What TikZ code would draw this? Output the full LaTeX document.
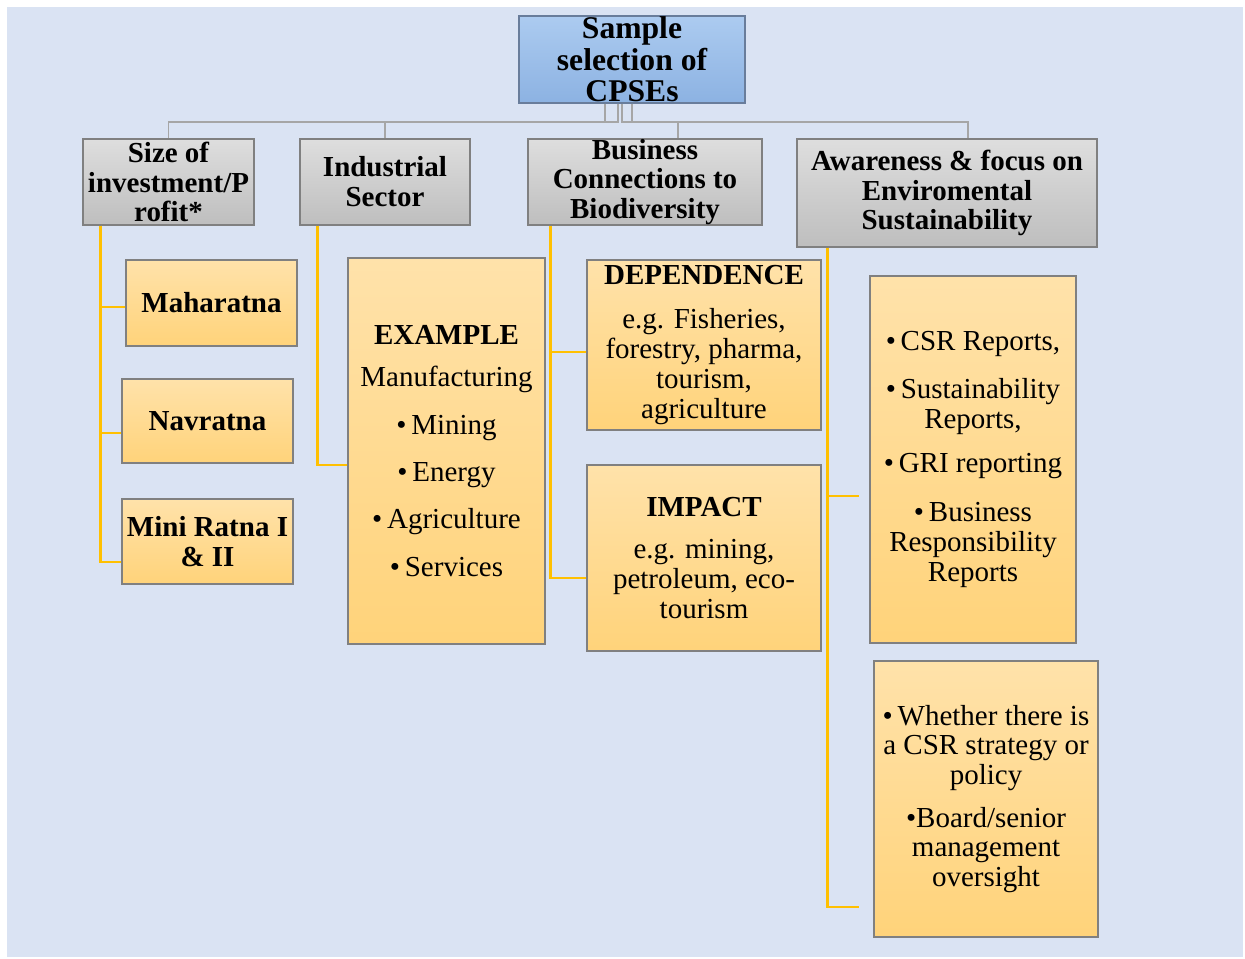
\documentclass[tikz,border=0pt]{standalone}
\usepackage{fontspec}
\setmainfont{Liberation Serif}
\usepackage{xcolor}
\usetikzlibrary{calc,positioning,shapes}

\definecolor{bgblue}{RGB}{218,227,243}
\definecolor{roottop}{RGB}{172,203,240}
\definecolor{rootbot}{RGB}{140,178,226}
\definecolor{rootline}{RGB}{105,125,155}
\definecolor{graytop}{RGB}{222,222,222}
\definecolor{graybot}{RGB}{190,190,190}
\definecolor{boxline}{RGB}{128,128,128}
\definecolor{orangetop}{RGB}{255,226,170}
\definecolor{orangebot}{RGB}{255,211,122}
\definecolor{treegray}{RGB}{166,166,166}
\definecolor{linkgold}{RGB}{255,192,0}

\tikzset{
  rootbox/.style={draw=rootline, line width=0.8pt, top color=roottop, bottom color=rootbot,
    inner sep=0pt, inner ysep=-6pt, minimum width=4.52cm, minimum height=1.74cm,
    align=center, font=\fontsize{18}{18}\selectfont\bfseries},
  catbox/.style={draw=boxline, line width=0.8pt, top color=graytop, bottom color=graybot,
    inner sep=0pt, align=center, font=\fontsize{16.5}{17}\selectfont\bfseries},
  itembox/.style={draw=boxline, line width=0.8pt, top color=orangetop, bottom color=orangebot,
    inner sep=0pt, align=center, font=\fontsize{16.5}{17}\selectfont},
  tree/.style={draw=treegray, line width=1.1pt},
  link/.style={draw=linkgold, line width=1.6pt},
}

\begin{document}
\begin{tikzpicture}[x=0.02cm, y=-0.02cm]
      \useasboundingbox (0,0) rectangle (1245,958);
      \fill[white] (0,0) rectangle (1245,958);
      \fill[bgblue] (7,7) rectangle (1243,957);

      \node[rootbox] (root) at (632,59.5) {Sample\\selection of\\CPSEs};

          \node[catbox, minimum width=3.42cm, minimum height=1.72cm] (size) at (168.5,182)
              {Size of\\investment/P\\rofit*};
          \node[catbox, minimum width=3.40cm, minimum height=1.72cm] (sector) at (385,182)
              {Industrial\\Sector};
          \node[catbox, minimum width=4.68cm, minimum height=1.72cm] (biz) at (645,182)
              {Business\\Connections to\\Biodiversity};
          \node[catbox, minimum width=6.00cm, minimum height=2.16cm] (aware) at (947,193)
              {Awareness \& focus on\\Enviromental\\Sustainability};

      \draw[tree] ([xshift=-0.54cm]root.south) -- ++(0,18) -| (size.north);
      \draw[tree] ([xshift=-0.28cm]root.south) -- ++(0,18) -| (sector.north);
      \draw[tree] ([xshift=-0.20cm]root.south) -- ++(0,18) -| ([xshift=0.66cm]biz.north);
      \draw[tree] (root.south) -- ++(0,18) -| ([xshift=0.42cm]aware.north);

          \node[itembox, font=\fontsize{16.5}{17}\selectfont\bfseries, minimum width=3.42cm, minimum height=1.72cm]
              (maha) at (211.5,303) {Maharatna};
          \node[itembox, font=\fontsize{16.5}{17}\selectfont\bfseries, minimum width=3.42cm, minimum height=1.68cm]
              (navr) at (207.5,421) {Navratna};
          \node[itembox, font=\fontsize{16.5}{17}\selectfont\bfseries, minimum width=3.42cm, minimum height=1.70cm]
              (mini) at (207.5,541.5) {Mini Ratna I\\\& II};

      \draw[link] ([xshift=0.36cm]size.south west) |- ([yshift=-0.08cm]maha.west);
      \draw[link] ([xshift=0.36cm]size.south west) |- ([yshift=-0.24cm]navr.west);
      \draw[link] ([xshift=0.36cm]size.south west) |- ([yshift=-0.41cm]mini.west);

          \node[itembox, minimum width=3.94cm, minimum height=7.72cm] (example) at (446.5,451)
              {\textbf{EXAMPLE}\\[7pt] Manufacturing\\[10pt] \textbullet\,Mining\\[10pt]
               \textbullet\,Energy\\[10pt] \textbullet\,Agriculture\\[10pt] \textbullet\,Services};

      \draw[link] ([xshift=0.36cm]sector.south west) |- ([yshift=-0.28cm]example.west);

          \node[itembox, minimum width=4.68cm, minimum height=3.40cm] (dep) at (704,345)
              {\textbf{DEPENDENCE}\\[8pt] e.g. Fisheries,\\forestry, pharma,\\tourism,\\agriculture};
          \node[itembox, minimum width=4.68cm, minimum height=3.72cm] (imp) at (704,558)
              {\textbf{IMPACT}\\[7pt] e.g. mining,\\petroleum, eco-\\tourism};

      \draw[link] ([xshift=0.46cm]biz.south west) |- ([yshift=-0.14cm]dep.west);
      \draw[link] ([xshift=0.46cm]biz.south west) |- ([yshift=-0.40cm]imp.west);

          \node[itembox, minimum width=4.12cm, minimum height=7.34cm] (csr) at (973,459.5)
              {\textbullet\,CSR Reports,\\[10pt] \textbullet\,Sustainability\\Reports,\\[8pt]
               \textbullet\,GRI reporting\\[11pt] \textbullet\,Business\\Responsibility\\Reports};
          \node[itembox, minimum width=4.48cm, minimum height=5.52cm] (csrpol) at (986,799)
              {\textbullet\,Whether there is\\a CSR strategy or\\policy\\[7pt]
               \textbullet Board/senior\\management\\oversight};

      \draw[link] ([xshift=0.62cm]aware.south west) |- ([xshift=-0.2cm, yshift=-0.73cm]csr.west);
      \draw[link] ([xshift=0.62cm]aware.south west) |- ([xshift=-0.28cm, yshift=-2.16cm]csrpol.west);

\end{tikzpicture}
\end{document}
